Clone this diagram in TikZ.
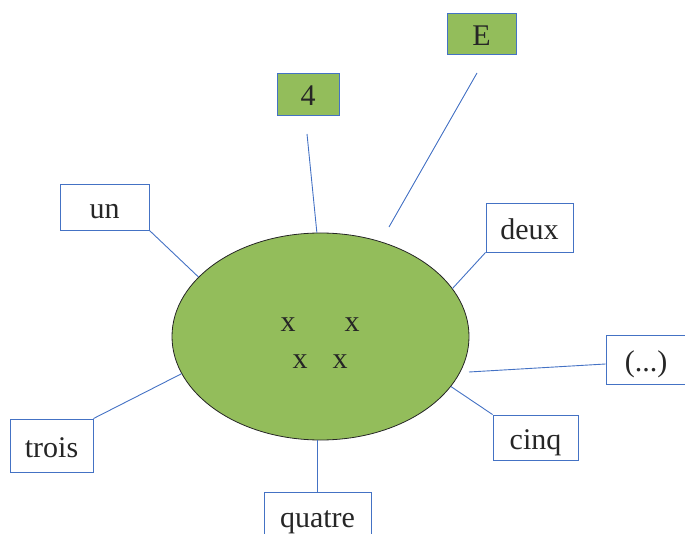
\documentclass[tikz,border=0pt]{standalone}
\usepackage{fontspec}
\setmainfont{Liberation Serif}
\usetikzlibrary{shapes.geometric}
\definecolor{leaf}{HTML}{93BD5B}
\definecolor{edgeblue}{HTML}{4472C4}
\definecolor{ink}{HTML}{262626}
\begin{document}
\begin{tikzpicture}[x=1pt,y=-1pt,
  lbl/.style={draw=edgeblue,line width=0.9pt,fill=white,rectangle,inner sep=0pt,text=ink,
    font=\fontsize{30}{36}\selectfont,text height=24pt,text depth=0pt},
  gbox/.style={lbl,fill=leaf},
  conn/.style={draw=edgeblue,line width=0.9pt},
  xsym/.style={text=ink,font=\fontsize{30}{36}\selectfont,inner sep=0pt}]
\useasboundingbox (0,0) rectangle (685,534);
\clip (0,0) rectangle (685,534);
\node[ellipse,draw=black!85,line width=0.8pt,fill=leaf,minimum width=297pt,minimum height=207pt,inner sep=0pt] (ell) at (320.5,336.5) {};
\node[xsym] (x1) at (288,325) {x};
\node[xsym] (x2) at (352,325) {x};
\node[xsym] (x3) at (300,362) {x};
\node[xsym] (x4) at (340,362) {x};
\node[gbox,minimum width=69pt,minimum height=41pt] (E) at (481.5,33.5) {E};
\node[gbox,minimum width=62pt,minimum height=42pt] (four) at (308,94) {4};
\node[lbl,minimum width=89pt,minimum height=46pt] (un) at (104.5,207) {un};
\node[lbl,minimum width=87pt,minimum height=49pt] (deux) at (529.5,227.5) {deux};
\node[lbl,minimum width=80pt,minimum height=49pt] (dots) at (646,359.5) {(...)};
\node[lbl,minimum width=85pt,minimum height=45pt] (cinq) at (535.5,437.5) {cinq};
\node[lbl,minimum width=83pt,minimum height=53pt] (trois) at (51.5,445.5) {trois};
\node[lbl,minimum width=107pt,minimum height=46pt] (quatre) at (317.5,515) {quatre};
\coordinate (fourend) at (307,134);
\coordinate (Etop) at (477,73);
\coordinate (Ebot) at (389,227);
\coordinate (dotsend) at (469,372);
\draw[conn] (fourend) -- (ell.92.5);
\draw[conn] (Etop) -- (Ebot);
\draw[conn] (un.south east) -- (ell.154.3);
\draw[conn] (deux.south west) -- (ell.20.2);
\draw[conn] ([yshift=-4.5pt]dots.west) -- (dotsend);
\draw[conn] (cinq.north west) -- (ell.-21.8);
\draw[conn] (trois.north east) -- (ell.195);
\draw[conn] (quatre.north) -- (quatre.north |- ell.south);
\end{tikzpicture}
\end{document}
